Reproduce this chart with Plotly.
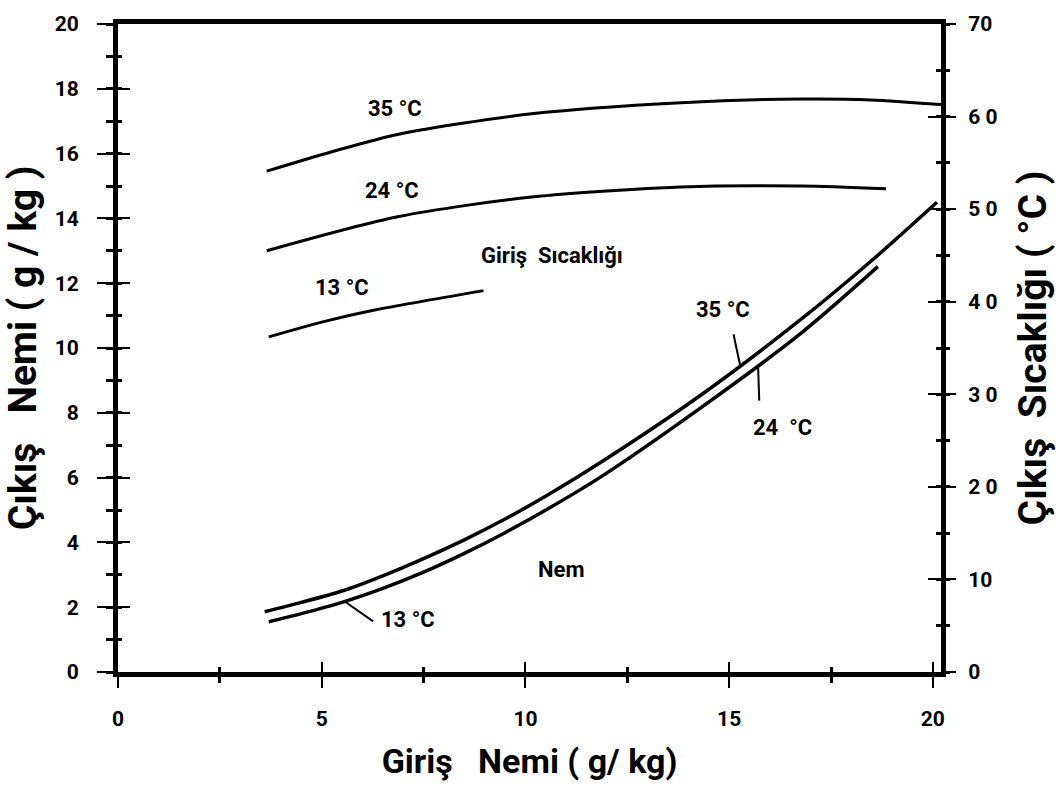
import plotly.graph_objects as go

# ---- data ----
# Outlet temperature curves (right axis, deg C) vs inlet humidity (g/kg)
gt35_x = [3.65, 5.25, 6.89, 10.15, 13.82, 16.76, 18.48, 20.2]
gt35_y = [54.1, 56.2, 58.1, 60.3, 61.5, 61.9, 61.8, 61.3]
gt24_x = [3.65, 6.89, 10.15, 13.82, 16.76, 18.85]
gt24_y = [45.5, 49.2, 51.3, 52.4, 52.5, 52.2]
gt13_x = [3.70, 5.0, 6.30, 8.97]
gt13_y = [36.2, 37.8, 39.1, 41.2]

# Outlet humidity curves (left axis, g/kg)
nem35_x = [3.6, 4.5, 5.5, 6.5, 7.5, 8.5, 9.5, 10.64, 11.86, 14.31, 16.76, 18.5, 20.1]
nem35_y = [1.86, 2.15, 2.50, 2.97, 3.50, 4.08, 4.72, 5.53, 6.48, 8.55, 10.88, 12.7, 14.5]
nem24_x = [3.7, 4.5, 5.5, 6.5, 7.5, 8.5, 9.5, 10.64, 11.86, 14.31, 16.76, 18.65]
nem24_y = [1.55, 1.80, 2.15, 2.58, 3.08, 3.66, 4.30, 5.10, 6.03, 8.16, 10.45, 12.51]

x_ticks = [0, 5, 10, 15, 20]
x_minor = [2.5, 7.5, 12.5, 17.5]
yl_ticks = list(range(0, 21, 2))
yr_ticks = list(range(0, 71, 10))
yr_labels = ["0", "10", "2 0", "3 0", "4 0", "5 0", "6 0", "70"]

FONT = "Roboto"
BLACK = "black"
NB = "\u00a0"

fig = go.Figure()

for xs, ys in [(gt35_x, gt35_y), (gt24_x, gt24_y), (gt13_x, gt13_y)]:
    fig.add_trace(go.Scatter(x=xs, y=ys, mode="lines", yaxis="y2",
                             line=dict(color=BLACK, width=3, shape="spline", smoothing=0.8),
                             showlegend=False, hoverinfo="skip"))
for xs, ys in [(nem35_x, nem35_y), (nem24_x, nem24_y)]:
    fig.add_trace(go.Scatter(x=xs, y=ys, mode="lines", yaxis="y",
                             line=dict(color=BLACK, width=3.5, shape="spline", smoothing=0.8),
                             showlegend=False, hoverinfo="skip"))

# helper traces so the inner-tick overlay axes are drawn
fig.add_trace(go.Scatter(x=[1], y=[1], xaxis="x2", yaxis="y3", mode="markers",
                         marker=dict(opacity=0), showlegend=False, hoverinfo="skip"))
fig.add_trace(go.Scatter(x=[1], y=[1], xaxis="x", yaxis="y4", mode="markers",
                         marker=dict(opacity=0), showlegend=False, hoverinfo="skip"))

tickfont = dict(family=FONT, size=21, color=BLACK, weight="bold")
xtitlefont = dict(family=FONT, size=34, color=BLACK, weight="bold")
ytitlefont = dict(family=FONT, size=39, color=BLACK, weight="bold")
XR = [0, 20.2]

fig.update_layout(
    width=1061, height=811,
    margin=dict(l=118, r=119, t=18, b=139),
    paper_bgcolor="white", plot_bgcolor="white",
    xaxis=dict(range=XR, showgrid=False, zeroline=False, showline=True,
               linewidth=5, linecolor=BLACK, mirror=True,
               ticks="outside", ticklen=11, tickwidth=2, tickcolor=BLACK,
               tickvals=x_ticks, tickfont=tickfont, ticklabelstandoff=13,
               minor=dict(tickvals=x_minor, ticks="outside", ticklen=6,
                          tickwidth=3, tickcolor=BLACK),
               title=dict(text=f"Giriş{NB}{NB}{NB}Nemi{NB}({NB}g/{NB}kg)",
                          font=xtitlefont, standoff=20)),
    xaxis2=dict(range=XR, overlaying="x", anchor="y", showgrid=False,
                zeroline=False, showline=False, ticks="inside", ticklen=10,
                tickwidth=2, tickcolor=BLACK, tickvals=x_ticks,
                showticklabels=False,
                minor=dict(tickvals=x_minor, ticks="inside", ticklen=5,
                           tickwidth=3, tickcolor=BLACK)),
    yaxis=dict(range=[0, 20], showgrid=False, zeroline=False, showline=True,
               linewidth=5, linecolor=BLACK,
               ticks="outside", ticklen=16, tickwidth=2, tickcolor=BLACK,
               tickvals=yl_ticks, tickfont=tickfont, ticklabelstandoff=14,
               minor=dict(dtick=1, ticks="outside", ticklen=7, tickwidth=3,
                          tickcolor=BLACK),
               title=dict(text=f"Çıkış{NB}{NB}{NB}Nemi{NB}({NB}g{NB}/{NB}kg{NB})",
                          font=ytitlefont, standoff=8)),
    yaxis3=dict(range=[0, 20], overlaying="y", anchor="x", side="left",
                showgrid=False, zeroline=False, showline=False,
                ticks="inside", ticklen=12, tickwidth=2, tickcolor=BLACK,
                tickvals=yl_ticks, showticklabels=False,
                minor=dict(dtick=1, ticks="inside", ticklen=4, tickwidth=3,
                           tickcolor=BLACK)),
    yaxis2=dict(range=[0, 70], overlaying="y", side="right", anchor="x",
                showgrid=False, zeroline=False, showline=True,
                linewidth=5, linecolor=BLACK,
                ticks="outside", ticklen=10, tickwidth=2, tickcolor=BLACK,
                tickvals=yr_ticks, ticktext=yr_labels, tickfont=tickfont,
                ticklabelstandoff=8,
                minor=dict(dtick=5, ticks="outside", ticklen=4, tickwidth=3,
                           tickcolor=BLACK),
                title=dict(text=f"Çıkış{NB}{NB}Sıcaklığı{NB}({NB}°C{NB})",
                           font=ytitlefont, standoff=24)),
    yaxis4=dict(range=[0, 70], overlaying="y", side="right", anchor="x",
                showgrid=False, zeroline=False, showline=False,
                ticks="inside", ticklen=13, tickwidth=2, tickcolor=BLACK,
                tickvals=yr_ticks, showticklabels=False,
                minor=dict(dtick=5, ticks="inside", ticklen=5, tickwidth=3,
                           tickcolor=BLACK)),
)

annfont = dict(family=FONT, size=22, color=BLACK, weight="bold")
labels = [
    ("35 °C", 6.79, 17.4),
    ("24 °C", 6.72, 14.85),
    ("13 °C", 5.49, 11.88),
    ("Giriş  Sıcaklığı", 10.64, 12.86),
    ("35 °C", 14.85, 11.2),
    ("24  °C", 16.32, 7.55),
    ("Nem", 10.88, 3.15),
    ("13 °C", 7.13, 1.62),
]
for t, x, y in labels:
    fig.add_annotation(x=x, y=y, xref="x", yref="y", text=t.replace(" ", NB),
                       showarrow=False, font=annfont)

# leader lines from curves to their labels
leaders = [
    (5.54, 2.20, 6.30, 1.53),
    (15.27, 9.46, 15.10, 10.47),
    (15.71, 9.45, 15.74, 8.33),
]
for x0, y0, x1, y1 in leaders:
    fig.add_annotation(x=x0, y=y0, xref="x", yref="y", ax=x1, ay=y1,
                       axref="x", ayref="y", text="", showarrow=True,
                       arrowhead=0, arrowwidth=2, arrowcolor=BLACK)

fig.write_html("out.html")
